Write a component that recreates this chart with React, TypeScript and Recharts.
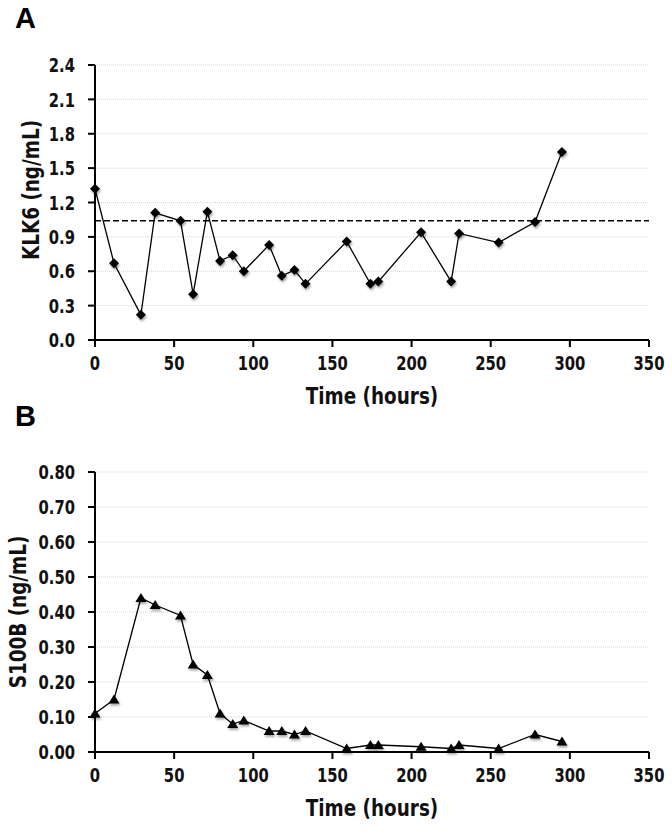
import { LineChart, Line, XAxis, YAxis, CartesianGrid, ReferenceLine } from "recharts";

const hours = [0, 12, 29, 38, 54, 62, 71, 79, 87, 94, 110, 118, 126, 133, 159, 174, 179, 206, 225, 230, 255, 278, 295];
const klk6 = [1.32, 0.67, 0.22, 1.11, 1.04, 0.4, 1.12, 0.69, 0.74, 0.6, 0.83, 0.56, 0.61, 0.49, 0.86, 0.49, 0.51, 0.94, 0.51, 0.93, 0.85, 1.03, 1.64];
const s100b = [0.11, 0.15, 0.44, 0.42, 0.39, 0.25, 0.22, 0.11, 0.08, 0.09, 0.06, 0.06, 0.05, 0.06, 0.01, 0.02, 0.02, 0.015, 0.01, 0.02, 0.01, 0.05, 0.03];
const klk6Cutoff = 1.04;

const xTicks = [0, 50, 100, 150, 200, 250, 300, 350];
const klk6Ticks = [0, 0.3, 0.6, 0.9, 1.2, 1.5, 1.8, 2.1, 2.4];
const s100bTicks = [0, 0.1, 0.2, 0.3, 0.4, 0.5, 0.6, 0.7, 0.8];

// the original uses a tall condensed face; squeeze DejaVu Sans Bold horizontally
const font = "'DejaVu Sans', sans-serif";
const textStyle = { fill: "#111", fontFamily: font, fontWeight: 700 };

const XTick = (p: any) => (
  <g transform={`translate(${p.x},${p.y})`}>
    <text transform="scale(0.74,1)" textAnchor="middle" dy="0.74em" fontSize={20} style={textStyle}>
      {p.payload.value}
    </text>
  </g>
);

const makeYTick = (digits: number) => (p: any) => (
  <g transform={`translate(${p.x},${p.y})`}>
    <text transform="scale(0.74,1)" textAnchor="end" dy="0.36em" fontSize={20} style={textStyle}>
      {Number(p.payload.value).toFixed(digits)}
    </text>
  </g>
);

const Diamond = (p: any) => {
  const { cx, cy, index } = p;
  if (cx == null || cy == null) return <g key={index} />;
  const r = 5;
  return (
    <path key={index} d={`M${cx},${cy - r} L${cx + r},${cy} L${cx},${cy + r} L${cx - r},${cy} Z`} fill="#000" filter="url(#shadow)" />
  );
};

const Triangle = (p: any) => {
  const { cx, cy, index } = p;
  if (cx == null || cy == null) return <g key={index} />;
  return (
    <path key={index} d={`M${cx},${cy - 5} L${cx + 5.5},${cy + 4} L${cx - 5.5},${cy + 4} Z`} fill="#000" filter="url(#shadow)" />
  );
};

function Panel({
  data, ticks, digits, yTitle, height, top, bottom, titleX, titleY, cutoff, shape,
}: {
  data: { t: number; v: number }[];
  ticks: number[];
  digits: number;
  yTitle: string;
  height: number;
  top: number;
  bottom: number;
  titleX: number;
  titleY: number;
  cutoff?: number;
  shape: (p: any) => any;
}) {
  return (
    <LineChart
      width={672}
      height={height}
      data={data}
      margin={{ top, right: 23, bottom, left: 35 }}
    >
      <defs>
        <filter id="shadow" x="-50%" y="-50%" width="200%" height="200%">
          <feDropShadow dx="1" dy="2" stdDeviation="1.2" floodColor="#000" floodOpacity="0.35" />
        </filter>
      </defs>
      <CartesianGrid vertical={false} stroke="#d6d6d6" strokeDasharray="1 1" />
      <XAxis
        type="number"
        dataKey="t"
        domain={[0, 350]}
        ticks={xTicks}
        height={65}
        tick={XTick}
        tickSize={7}
        tickMargin={8}
        axisLine={{ stroke: "#000", strokeWidth: 2 }}
        tickLine={{ stroke: "#000", strokeWidth: 2 }}
        label={{
          content: (lp: any) => {
            const vb = lp.viewBox || {};
            const cx = vb.x + vb.width / 2;
            const by = vb.y + vb.height - 1;
            return (
              <g transform={`translate(${cx},${by})`}>
                <text transform="scale(0.8,1)" textAnchor="middle" fontSize={23} style={textStyle}>
                  Time (hours)
                </text>
              </g>
            );
          },
        }}
      />
      <YAxis
        type="number"
        domain={[0, ticks[ticks.length - 1]]}
        ticks={ticks}
        width={60}
        tick={makeYTick(digits)}
        tickSize={7}
        tickMargin={13}
        axisLine={{ stroke: "#000", strokeWidth: 2 }}
        tickLine={{ stroke: "#000", strokeWidth: 2 }}
        label={{
          content: () => (
            <g transform={`translate(${titleX},${titleY}) rotate(-90)`}>
              <text
                transform="scale(0.8,1)"
                textAnchor="middle"
                dy="0.36em"
                fontSize={23}
                style={textStyle}
              >
                {yTitle}
              </text>
            </g>
          ),
        }}
      />
      {cutoff != null && (
        <ReferenceLine y={cutoff} stroke="#000" strokeWidth={1.5} strokeDasharray="6 3" />
      )}
      <Line
        type="linear"
        dataKey="v"
        stroke="#000"
        strokeWidth={1.3}
        dot={shape}
        activeDot={false}
        isAnimationActive={false}
      />
    </LineChart>
  );
}

export default function App() {
  const klkData = hours.map((t, i) => ({ t, v: klk6[i] }));
  const s100Data = hours.map((t, i) => ({ t, v: s100b[i] }));
  const letter = {
    position: "absolute" as const,
    left: 15,
    fontFamily: "'Liberation Sans', Arial, sans-serif",
    fontWeight: 700,
    fontSize: 29,
    lineHeight: "29px",
    color: "#000",
  };
  return (
    <div style={{ position: "absolute", left: 0, top: 0, width: 672, height: 835, background: "#fff" }}>
      <div style={{ ...letter, top: 4 }}>A</div>
      <div style={{ ...letter, top: 402 }}>B</div>
      <div style={{ position: "absolute", left: 0, top: 0 }}>
        <Panel
          data={klkData}
          ticks={klk6Ticks}
          digits={1}
          yTitle="KLK6 (ng/mL)"
          height={420}
          top={65}
          bottom={15}
          titleX={31}
          titleY={190}
          cutoff={klk6Cutoff}
          shape={Diamond}
        />
      </div>
      <div style={{ position: "absolute", left: 0, top: 420 }}>
        <Panel
          data={s100Data}
          ticks={s100bTicks}
          digits={2}
          yTitle="S100B (ng/mL)"
          height={415}
          top={52}
          bottom={18}
          titleX={18}
          titleY={192}
          shape={Triangle}
        />
      </div>
    </div>
  );
}
